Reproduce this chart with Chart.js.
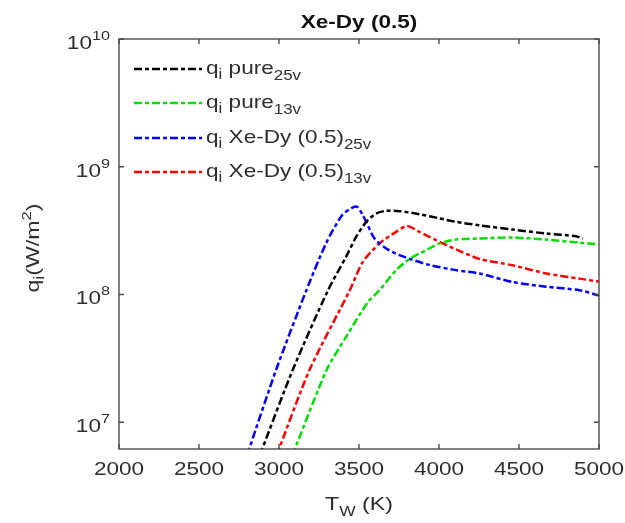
<!DOCTYPE html>
<html lang="en">
<head>
    <meta charset="utf-8" />
    <title>Xe-Dy (0.5)</title>
    <script src="https://cdn.jsdelivr.net/npm/chart.js@4.4.1/dist/chart.umd.min.js"></script>
    <style>
        body { margin: 0; background: #fff; }
        #wrap { width: 625px; height: 523px; position: relative; }
    </style>
</head>
<body>
    <div id="wrap"><canvas id="qChart"></canvas></div>
    <script type="text/javascript">
        // values (T in K, q in W/m^2)
        const tPure25 = [2880, 3086, 3305, 3419, 3482, 3545, 3607, 3670, 3753, 3878, 4003, 4107, 4252, 4461, 4670, 4855, 4900];
        const qPure25 = [5.5e6, 2.57e7, 1.07e8, 1.97e8, 2.82e8, 3.7e8, 4.3e8, 4.52e8, 4.49e8, 4.25e8, 3.94e8, 3.7e8, 3.48e8, 3.22e8, 3.0e8, 2.86e8, 2.74e8];

        const tPure13 = [3083, 3298, 3419, 3555, 3628, 3732, 3816, 3920, 4003, 4107, 4252, 4461, 4670, 4878, 5000];
        const qPure13 = [5.5e6, 2.57e7, 4.65e7, 8.7e7, 1.08e8, 1.55e8, 1.9e8, 2.22e8, 2.51e8, 2.69e8, 2.74e8, 2.79e8, 2.69e8, 2.54e8, 2.47e8];

        const tMix25 = [2800, 2982, 3170, 3294, 3394, 3460, 3489, 3520, 3545, 3597, 3670, 3753, 3816, 3941, 4107, 4252, 4461, 4670, 4878, 5000];
        const qMix25 = [5.5e6, 2.57e7, 1.07e8, 2.51e8, 4.17e8, 4.79e8, 4.85e8, 4.27e8, 3.7e8, 2.74e8, 2.29e8, 2.03e8, 1.9e8, 1.7e8, 1.55e8, 1.46e8, 1.25e8, 1.15e8, 1.08e8, 9.8e7];

        const tMix13 = [2985, 3191, 3441, 3524, 3628, 3732, 3799, 3878, 3982, 4107, 4252, 4461, 4670, 4878, 5000];
        const qMix13 = [5.5e6, 2.57e7, 1.07e8, 1.8e8, 2.51e8, 3.09e8, 3.43e8, 3.09e8, 2.66e8, 2.25e8, 1.9e8, 1.69e8, 1.46e8, 1.33e8, 1.26e8];

        const legendMain = ['pure', 'pure', 'Xe-Dy (0.5)', 'Xe-Dy (0.5)'];
        const legendSub = ['25v', '13v', '25v', '13v'];
        const seriesColors = ['#000000', '#00e000', '#0000ff', '#ff0000'];

        const xTicks = [2000, 2500, 3000, 3500, 4000, 4500, 5000];
        const yTicks = [1e7, 1e8, 1e9, 1e10];
        const yExponents = ['7', '8', '9', '10'];

        const FONT = '"Liberation Sans", Arial, sans-serif';
        const SX = 1.22; // the original text is drawn wide
        const TEXT = '#2e2e2e';
        const AXIS = '#4a4a4a';
        const DASH = [8, 3, 4, 3];

        function toPoints(xs, ys) {
            return xs.map(function (x, i) { return { x: x, y: ys[i] }; });
        }

        // draws a run of text pieces [text, sizeFactor, dy], with horizontal stretch
        function drawRun(ctx, parts, x, y, size, align, weight) {
            let widths = parts.map(function (p) {
                ctx.font = (weight || 'normal') + ' ' + (size * p[1]) + 'px ' + FONT;
                return ctx.measureText(p[0]).width * SX;
            });
            let total = widths.reduce(function (a, b) { return a + b; }, 0);
            let cx = x;
            if (align === 'center') cx = x - total / 2;
            if (align === 'right') cx = x - total;
            parts.forEach(function (p, i) {
                ctx.save();
                ctx.font = (weight || 'normal') + ' ' + (size * p[1]) + 'px ' + FONT;
                ctx.textBaseline = 'alphabetic';
                ctx.textAlign = 'left';
                ctx.translate(cx, y + p[2]);
                ctx.scale(SX, 1);
                ctx.fillText(p[0], 0, 0);
                ctx.restore();
                cx += widths[i];
            });
        }

        const matlabAxes = {
            id: 'matlabAxes',
            afterDraw: function (chart) {
                let ctx = chart.ctx;
                let area = chart.chartArea;
                let xs = chart.scales.x;
                let ys = chart.scales.y;

                // box and inward ticks
                ctx.save();
                ctx.strokeStyle = AXIS;
                ctx.lineWidth = 1.4;
                ctx.strokeRect(area.left, area.top, area.right - area.left, area.bottom - area.top);
                ctx.beginPath();
                xTicks.forEach(function (v) {
                    let px = xs.getPixelForValue(v);
                    ctx.moveTo(px, area.bottom); ctx.lineTo(px, area.bottom - 5);
                    ctx.moveTo(px, area.top); ctx.lineTo(px, area.top + 5);
                });
                yTicks.forEach(function (v) {
                    let py = ys.getPixelForValue(v);
                    ctx.moveTo(area.left, py); ctx.lineTo(area.left + 5, py);
                    ctx.moveTo(area.right, py); ctx.lineTo(area.right - 5, py);
                });
                ctx.stroke();
                ctx.restore();

                ctx.save();
                ctx.fillStyle = TEXT;
                // x tick labels
                xTicks.forEach(function (v) {
                    drawRun(ctx, [[String(v), 1, 0]], xs.getPixelForValue(v), area.bottom + 26, 18.5, 'center');
                });
                // y tick labels 10^n
                yTicks.forEach(function (v, i) {
                    let py = ys.getPixelForValue(v);
                    drawRun(ctx, [['10', 1, 0], [yExponents[i], 0.72, -9]], area.left - 9, py + 10, 18.5, 'right');
                });
                // title
                ctx.fillStyle = '#111111';
                drawRun(ctx, [['Xe-Dy (0.5)', 1, 0]], (area.left + area.right) / 2, 28, 18.5, 'center', 'bold');
                ctx.fillStyle = TEXT;
                // x axis title
                drawRun(ctx, [['T', 1, 0], ['W', 0.75, 6], [' (K)', 1, 0]], (area.left + area.right) / 2, 510, 19, 'center');
                // y axis title
                ctx.save();
                ctx.translate(32, 248);
                ctx.rotate(-Math.PI / 2);
                drawRun(ctx, [['q', 1, 0], ['i', 0.75, 5], ['(W/m', 1, 0], ['2', 0.72, -8], [')', 1, 0]], 0, 7, 19, 'center');
                ctx.restore();

                // legend
                let rowsY = [69, 103, 138, 172];
                rowsY.forEach(function (ly, i) {
                    ctx.save();
                    ctx.strokeStyle = seriesColors[i];
                    ctx.lineWidth = 2.5;
                    ctx.setLineDash(DASH);
                    ctx.beginPath();
                    ctx.moveTo(134, ly);
                    ctx.lineTo(202, ly);
                    ctx.stroke();
                    ctx.restore();
                    drawRun(ctx, [['q', 1, 0], ['i', 0.75, 5], [' ' + legendMain[i], 1, 0], [legendSub[i], 0.75, 6]], 206, ly + 5, 18.5, 'left');
                });
                ctx.restore();
            }
        };

        function makeSet(xs, ys, color) {
            return {
                data: toPoints(xs, ys),
                borderColor: color,
                backgroundColor: color,
                borderWidth: 2.5,
                borderDash: DASH,
                pointRadius: 0,
                tension: 0.25,
                fill: false
            };
        }

        let chartContext = document.getElementById('qChart').getContext('2d');
        let qChart = new Chart(chartContext, {
            type: 'line',
            data: {
                datasets: [
                    makeSet(tPure25, qPure25, seriesColors[0]),
                    makeSet(tPure13, qPure13, seriesColors[1]),
                    makeSet(tMix25, qMix25, seriesColors[2]),
                    makeSet(tMix13, qMix13, seriesColors[3])
                ]
            },
            options: {
                responsive: true,
                maintainAspectRatio: false,
                animation: false,
                devicePixelRatio: 1,
                layout: { padding: { left: 119, right: 26, top: 39, bottom: 74 } },
                plugins: {
                    legend: { display: false },
                    tooltip: { enabled: false }
                },
                scales: {
                    x: { type: 'linear', min: 2000, max: 5000, display: false },
                    y: { type: 'logarithmic', min: Math.pow(10, 6.79), max: 1e10, display: false }
                }
            },
            plugins: [matlabAxes]
        });
    </script>
</body>
</html>
